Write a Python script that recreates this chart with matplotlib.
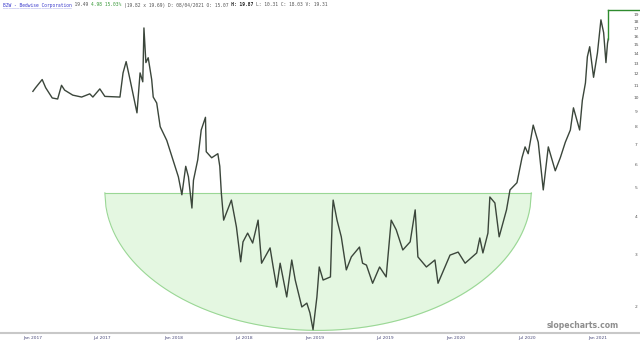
import numpy as np
import pandas as pd
import matplotlib
matplotlib.use("Agg")
import matplotlib.pyplot as plt
import matplotlib.dates as mdates

# ---------------- data ----------------
dates = ["2017-01-02","2017-01-09","2017-01-26","2017-02-04","2017-02-21","2017-03-07","2017-03-17","2017-03-25",
         "2017-04-15","2017-05-08","2017-05-29","2017-06-06","2017-06-24","2017-07-07","2017-08-15","2017-08-23",
         "2017-08-31","2017-09-10","2017-09-28","2017-10-06","2017-10-13","2017-10-16","2017-10-21","2017-10-27",
         "2017-11-05","2017-11-09","2017-11-18","2017-11-27","2017-12-14","2017-12-30","2018-01-13","2018-01-22",
         "2018-02-01","2018-02-08","2018-02-17","2018-02-21","2018-03-04","2018-03-13","2018-03-24","2018-03-26",
         "2018-04-09","2018-04-25","2018-04-30","2018-05-04","2018-05-10","2018-05-17","2018-05-30","2018-06-12",
         "2018-06-23","2018-06-29","2018-07-11","2018-07-24","2018-08-07","2018-08-16","2018-09-07","2018-09-15",
         "2018-09-24","2018-10-03","2018-10-20","2018-11-02","2018-11-11","2018-11-28","2018-12-11","2018-12-19",
         "2018-12-27","2019-01-06","2019-01-12","2019-01-22","2019-02-10","2019-02-15","2019-02-17","2019-02-27",
         "2019-03-10","2019-03-23","2019-04-05","2019-04-26","2019-05-04","2019-05-14","2019-05-30","2019-06-17",
         "2019-07-04","2019-07-17","2019-07-30","2019-08-16","2019-09-04","2019-09-17","2019-09-24","2019-10-16",
         "2019-11-07","2019-11-15","2019-12-16","2020-01-06","2020-01-24","2020-02-23","2020-03-02","2020-03-10",
         "2020-03-23","2020-03-28","2020-04-10","2020-04-21","2020-05-10","2020-05-19","2020-06-06","2020-06-19",
         "2020-06-27","2020-07-05","2020-07-18","2020-07-31","2020-08-13","2020-08-26","2020-09-13","2020-09-26",
         "2020-10-09","2020-10-22","2020-10-30","2020-11-15","2020-11-22","2020-11-30","2020-12-05","2020-12-11",
         "2020-12-21","2020-12-31","2021-01-09","2021-01-16","2021-01-22","2021-01-26","2021-01-28"]
prices = [10.5,10.8,11.5,10.8,9.98,9.9,11.0,10.6,
          10.2,10.05,10.3,10.05,10.7,10.1,10.05,12.1,
          13.2,11.5,8.9,12.1,11.3,17.1,13.1,13.6,
          11.5,10.05,9.6,8.0,7.2,6.2,5.44,4.74,
          5.9,5.44,4.28,5.3,6.2,7.8,8.6,6.6,
          6.3,6.5,5.9,4.81,3.9,4.12,4.55,3.70,
          2.83,3.30,3.53,3.27,3.9,2.80,3.15,2.72,
          2.33,2.80,2.16,2.87,2.46,2.0,2.06,1.91,
          1.68,2.16,2.72,2.46,2.52,4.12,4.55,3.9,
          3.43,2.66,2.94,3.17,2.80,2.76,2.40,2.72,
          2.52,3.9,3.62,3.10,3.30,4.22,2.94,2.72,
          2.87,2.40,2.98,3.05,2.80,3.03,3.40,3.03,
          3.53,4.66,4.45,3.43,4.22,4.92,5.2,6.3,
          6.85,6.5,8.1,7.1,4.92,6.85,5.7,6.3,
          7.1,7.8,9.25,7.8,9.8,11.2,13.7,14.8,
          11.7,14.1,18.2,16.5,13.1,15.2,15.7]
last_price = 19.6

# rounding-bottom (bowl) annotation
bowl_start = "2017-07-07"
bowl_end = "2020-07-13"
bowl_rim = 4.81
bowl_bottom = 1.67

x_ticks = ["2017-01-01","2017-07-01","2018-01-01","2018-07-01","2019-01-01",
           "2019-07-01","2020-01-01","2020-07-01","2021-01-01"]
x_tick_labels = ["Jan 2017","Jul 2017","Jan 2018","Jul 2018","Jan 2019",
                 "Jul 2019","Jan 2020","Jul 2020","Jan 2021"]
y_ticks = list(range(2, 20))

title_parts = [("BZW - Bedwise Corporation", "normal", "#3a3acc"),
               (" 19.49 ", "normal", "#555555"),
               ("4.98 15.03%", "normal", "#3a9a3a"),
               (" (19.82 x 19.69) D: 08/04/2021 O: 15.07 ", "normal", "#555555"),
               ("H: 19.87", "bold", "#222222"),
               (" L: 10.31 C: 18.03 V: 19.31", "normal", "#555555")]

# ---------------- plot ----------------
fig = plt.figure(figsize=(6.4, 3.44), dpi=100)
ax = fig.add_axes([0, 11/344, 1, 1 - 11/344])
ax.set_yscale("log")

d = pd.to_datetime(dates)
xn = mdates.date2num(d)

# bowl
b0 = mdates.date2num(pd.Timestamp(bowl_start))
b1 = mdates.date2num(pd.Timestamp(bowl_end))
bx = np.linspace(b0, b1, 400)
xc = (b0 + b1) / 2
a = (b1 - b0) / 2
lr, lb = np.log(bowl_rim), np.log(bowl_bottom)
by = np.exp(lr - (lr - lb) * np.sqrt(np.clip(1 - ((bx - xc) / a) ** 2, 0, 1)))
ax.fill_between(bx, by, bowl_rim, color="#e4f7e1", zorder=1, linewidth=0)
ax.plot(bx, by, color="#9ad795", lw=0.8, zorder=2)
ax.plot([b0, b1], [bowl_rim, bowl_rim], color="#9ad795", lw=0.8, zorder=2)

# price line
ax.plot(xn, prices, color="#3b463b", lw=1.0, zorder=3)

# last price marker
x_last = xn[-1]
x_end = mdates.date2num(pd.Timestamp("2021-04-25"))
ax.plot([x_last, x_last], [prices[-1], last_price], color="#2e8b2e", lw=1.0, zorder=4)
ax.plot([x_last, x_end], [last_price, last_price], color="#2e8b2e", lw=1.0, zorder=4)

ax.set_xlim(mdates.date2num(pd.Timestamp("2016-10-09")), mdates.date2num(pd.Timestamp("2021-04-20")))
ax.set_ylim(1.637, 21.2)

# x ticks
ax.set_xticks(mdates.date2num(pd.to_datetime(x_ticks)))
ax.set_xticklabels(x_tick_labels, fontsize=3.2, color="#4a4a7a")
ax.tick_params(axis="x", length=0, pad=2.5)

# y ticks inside at right
ax.yaxis.set_major_locator(matplotlib.ticker.FixedLocator(y_ticks))
ax.yaxis.set_minor_locator(matplotlib.ticker.NullLocator())
ax.yaxis.tick_right()
ax.set_yticklabels([str(v) for v in y_ticks], fontsize=3.2, color="#555555")
ax.tick_params(axis="y", direction="in", length=0, pad=-3)
for lab in ax.get_yticklabels():
    lab.set_horizontalalignment("center")

for s in ["top", "left", "right"]:
    ax.spines[s].set_visible(False)
ax.spines["bottom"].set_color("#c8c8c8")
ax.spines["bottom"].set_linewidth(1.5)

# header: monospace; each coloured part drawn as a full-length string with
# other characters blanked, so alignment stays exact
mono = "DejaVu Sans Mono"
fs = 3.3
full = "".join(p[0] for p in title_parts)
ypos = 1 - 5/344
start = 0
for txt, wt, col in title_parts:
    masked = " " * start + txt + " " * (len(full) - start - len(txt))
    fig.text(3/640, ypos, masked, fontsize=fs, family=mono, color=col, weight=wt,
             va="center", ha="left")
    start += len(txt)
# underline company name
name_mask = title_parts[0][0] + " " * (len(full) - len(title_parts[0][0]))
fig.text(3/640, ypos, "".join("_" if c != " " or i < len(title_parts[0][0]) else " "
                              for i, c in enumerate(name_mask)),
         fontsize=fs, family=mono, color="#3a3acc", va="center", ha="left")

# watermark
fig.text(583/640, 1 - 325/344, "slopecharts.com", fontsize=5.6, color="#7a7a7a",
         ha="center", va="center", weight="bold", alpha=0.85)

fig.savefig("out.png", dpi=100)
